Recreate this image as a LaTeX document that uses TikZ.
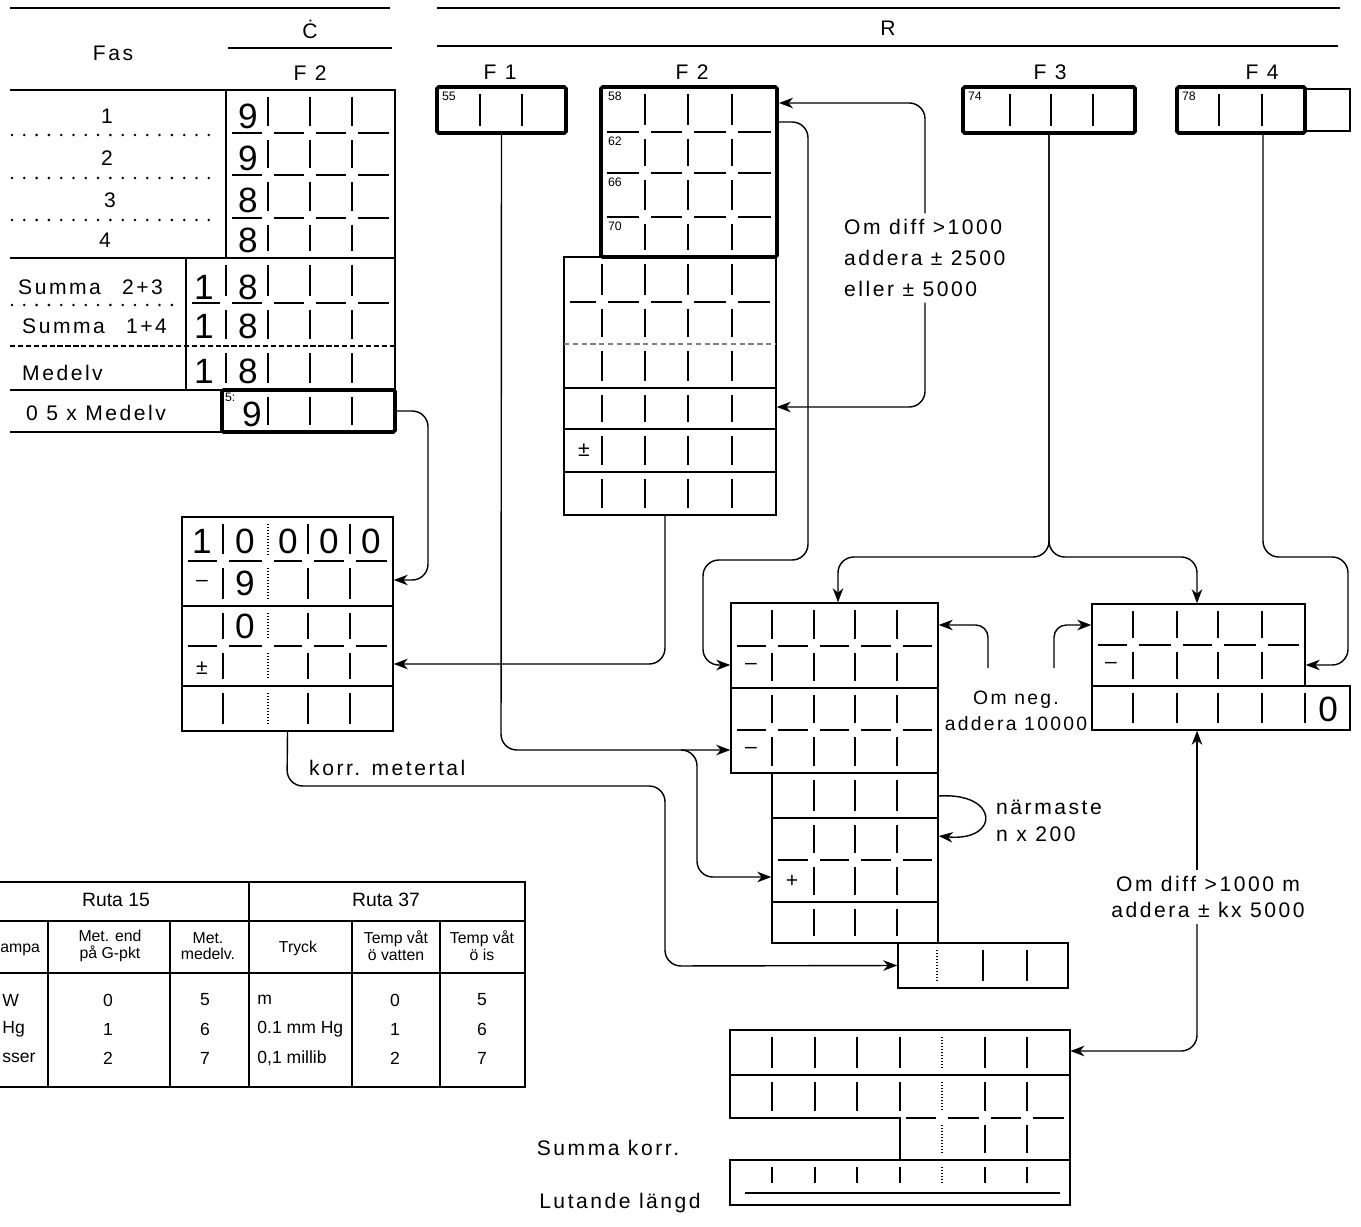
\documentclass[tikz,border=0pt]{standalone}
\usepackage{fontspec}
\setmainfont{Liberation Sans}
\newfontfamily\stf[LetterSpace=12]{Liberation Sans}
\usetikzlibrary{arrows.meta,fit,calc}
% short cell dividers of the form
\newcommand{\rowticks}[3]{\foreach \xx in {#3}{\draw[tk] (\xx,{#1+7}) -- (\xx,{#2-7});}}
\newcommand{\rowdots}[3]{\foreach \xx in {#3}{\draw[tk,densely dotted] (\xx,{#1+7}) -- (\xx,{#2-7});}}
\newcommand{\celldash}[2]{\foreach \aa/\bb in {#2}{\draw[tk] ({\aa+6},#1) -- ({\bb-6},#1);}}

\begin{document}
\begin{tikzpicture}[x=0.02cm,y=-0.02cm,
  tk/.style={line width=0.7pt},
  rl/.style={line width=1pt},
  box/.style={draw,line width=0.8pt,inner sep=0pt},
  fbox/.style={draw,line width=2.2pt,inner sep=0pt,rounded corners=1pt},
  lbl/.style={font=\stf\fontsize{12}{15}\selectfont},
  dig/.style={font=\stf\fontsize{20}{20}\selectfont},
  sml/.style={font=\fontsize{7}{7}\selectfont,anchor=north west,inner sep=1pt},
  tab/.style={font=\fontsize{9}{9.5}\selectfont,align=center},
  dat/.style={font=\fontsize{10}{11}\selectfont},
  arr/.style={-{Stealth[length=8pt,width=6pt,inset=2.5pt]},line width=0.8pt,rounded corners=9pt},
  dotrow/.style={line width=1.6pt,dash pattern=on 0pt off 7pt,line cap=round},
]
\useasboundingbox (0,0) rectangle (1361,1226);

% header
\draw[rl] (10,8) -- (390,8);
\draw[rl] (437,8) -- (1340,8);
\node[lbl] (hfas) at (113,53) {Fas};
\node[lbl] (hc) at (310,29) {Ċ};
\draw[rl] (228,48) -- (392,48);
\node[lbl] (hcf) at (310,73) {F 2};
\node[lbl] (hr) at (888,28) {R};
\draw[rl] (437,46) -- (1338,46);
\node[lbl] (hf1) at (500,72) {F 1};
\node[lbl] (hf2) at (692,72) {F 2};
\node[lbl] (hf3) at (1050,72) {F 3};
\node[lbl] (hf4) at (1262,72) {F 4};

% C, F2: phases 1-4
\draw[rl] (10,90) -- (226,90);
\node[box,fit={(226,90)(395,258)}] (cf) {};
\foreach \yy/\nn/\xs/\dd in {116/1/107/9,158/2/107/9,200/3/110/8,240/4/105/8}{
  \node[lbl] (fas\nn) at (\xs,\yy) {\nn};
  \node[dig] (d\nn) at (248,\yy) {\dd};
}
\foreach \yy in {135,178,220}{\draw[dotrow] (12,\yy) -- (218,\yy);}
\foreach \ya/\yb in {90/133,133/175,175/218,218/258}{\rowticks{\ya}{\yb}{268,310,352}}
\foreach \yy in {133,175,218}{\celldash{\yy}{226/268,268/310,310/352,352/395}}

% sums and mean
\draw[rl] (10,258) -- (186,258);
\node[box,fit={(186,258)(395,390)}] (sm) {};
\draw[dotrow] (12,305) -- (172,305);
\draw[tk,dash pattern=on 3pt off 1.5pt] (10,346) -- (395,346);
\foreach \ya/\yb in {258/303,303/346,346/390}{\rowticks{\ya}{\yb}{226,268,310,352}}
\celldash{303}{186/226,226/268,268/310,310/352,352/395}
\node[lbl,anchor=west] (s23) at (12,287) {Summa\quad 2+3};
\node[lbl,anchor=west] (s14) at (16,326) {Summa\quad 1+4};
\node[lbl,anchor=west] (mdv) at (16,373) {Medelv};
\foreach \yy/\nn in {287/a,326/b,371/c}{
  \node[dig] (e\nn) at (204,\yy) {1};
  \node[dig] (g\nn) at (248,\yy) {8};
}

% 0.5 x mean
\draw[line width=1.2pt] (10,390) -- (222,390);
\node[fbox,fit={(222,390)(395,432)}] (half) {};
\rowticks{390}{432}{268,310,352}
\node[sml] (h5) at (223,391) {5:};
\node[dig] (h9) at (252,414) {9};
\node[lbl,anchor=west] (hmv) at (20,413) {0 5 x Medelv};
\draw[rl] (10,432) -- (222,432);

% R: F1
\node[fbox,fit={(437,87)(566,133)}] (f1) {};
\rowticks{87}{133}{480,522}
\node[sml] (n55) at (440,90) {55};

% R: F2 lower part
\node[box,fit={(564,257)(776,515)}] (f2b) {};
\foreach \ya/\yb in {257/302,302/344,344/388,388/429,429/472,472/515}{\rowticks{\ya}{\yb}{602,645,688,732}}
\celldash{302}{564/602,602/645,645/688,688/732,732/776}
\draw[tk,densely dashed,gray] (564,344) -- (776,344);
\foreach \yy in {388,429,472}{\draw[tk] (564,\yy) -- (776,\yy);}
\node[lbl] (pm1) at (584,450) {±};

% R: F2 readings
\node[fbox,fill=white,fit={(601,87)(777,257)}] (f2a) {};
\foreach \ya/\yb in {87/132,132/173,173/217,217/257}{\rowticks{\ya}{\yb}{645,688,732}}
\foreach \yy in {132,173,217}{\celldash{\yy}{601/645,645/688,688/732,732/777}}
\foreach \yy/\nn in {90/58,135/62,176/66,220/70}{\node[sml] (n\nn) at (606,\yy) {\nn};}

% R: F3, F4
\node[fbox,fit={(963,87)(1135,133)}] (f3) {};
\rowticks{87}{133}{1010,1051,1093}
\node[sml] (n74) at (966,90) {74};
\node[fbox,fit={(1177,87)(1305,133)}] (f4) {};
\rowticks{87}{133}{1219,1262}
\node[sml] (n78) at (1180,90) {78};
\draw[tk] (1306,89) -- (1350,89) -- (1350,131) -- (1306,131);

% 100000 - C
\node[box,fit={(182,517)(393,731)}] (ml) {};
\foreach \ya/\yb in {517/561,561/606,606/646,646/686,686/731}{
  \rowticks{\ya}{\yb}{223,308,350}
  \rowdots{\ya}{\yb}{268}
}
\foreach \yy in {561,646}{\celldash{\yy}{182/223,223/268,268/308,308/350,350/393}}
\foreach \yy in {606,686}{\draw[tk] (182,\yy) -- (393,\yy);}
\node[dig] (o1) at (202,541) {1};
\foreach \xx/\nn in {245/2,288/3,329/4,371/5}{\node[dig] (o\nn) at (\xx,541) {0};}
\node[lbl] (mn1) at (202,583) {–};
\node[dig] (m9) at (245,583) {9};
\node[dig] (m0) at (245,626) {0};
\node[lbl] (pm2) at (202,668) {±};

% differences, centre
\node[box,fit={(731,603)(938,773)}] (ma) {};
\foreach \ya/\yb in {603/646,646/688,688/730,730/773}{\rowticks{\ya}{\yb}{772,814,855,897}}
\foreach \yy in {646,730}{\celldash{\yy}{731/772,772/814,814/855,855/897,897/938}}
\draw[tk] (731,688) -- (938,688);
\node[lbl] (mn2) at (751,666) {–};
\node[lbl] (mn3) at (751,750) {–};

\node[box,fit={(772,773)(938,943)}] (mb) {};
\foreach \ya/\yb in {773/818,818/860,860/902,902/943}{\rowticks{\ya}{\yb}{814,855,897}}
\celldash{860}{772/814,814/855,855/897,897/938}
\foreach \yy in {818,902}{\draw[tk] (772,\yy) -- (938,\yy);}
\node[lbl] (pl1) at (792,881) {+};

\node[box,fit={(898,943)(1068,988)}] (mc) {};
\rowticks{943}{988}{983,1027}
\rowdots{943}{988}{937}

% differences, right
\node[box,fit={(1092,604)(1305,686)}] (ra) {};
\foreach \ya/\yb in {604/645,645/686}{\rowticks{\ya}{\yb}{1133,1177,1218,1262}}
\celldash{645}{1092/1133,1133/1177,1177/1218,1218/1262,1262/1305}
\node[lbl] (mn4) at (1111,665) {–};
\node[box,fit={(1092,686)(1350,730)}] (rb) {};
\rowticks{686}{730}{1133,1177,1218,1262,1305}
\node[dig] (r0) at (1328,709) {0};

% sum of corrections, slope length
\node[inner sep=0pt,fit={(730,1030)(1070,1205)}] (tot) {};
\draw[line width=0.8pt] (730,1030) -- (1070,1030) -- (1070,1205) -- (730,1205) -- (730,1160)
  -- (900,1160) -- (900,1118) -- (730,1118) -- cycle;
\draw[tk] (730,1075) -- (1070,1075);
\draw[tk] (900,1160) -- (1070,1160);
\foreach \ya/\yb in {1030/1075,1075/1118,1160/1190}{
  \rowticks{\ya}{\yb}{772,815,857,900,985,1027}
  \rowdots{\ya}{\yb}{942}
}
\rowticks{1118}{1160}{985,1027}
\rowdots{1118}{1160}{942}
\celldash{1118}{900/942,942/985,985/1027,1027/1070}
\draw[line width=1.2pt] (745,1193) -- (1060,1193);
\node[lbl] (skorr) at (608,1148) {Summa korr.};
\node[lbl] (llang) at (620,1203) {Lutande längd};

% notes
\node[lbl,anchor=west,align=left,font=\stf\fontsize{12}{17.5}\selectfont] (om1) at (838,258)
  {Om diff >1000\\addera ± 2500\\eller ± 5000};
\node[lbl,align=center,font=\stf\fontsize{11}{15}\selectfont] (om2) at (1016,711) {Om neg.\\addera 10000};
\node[lbl,anchor=west,align=left] (nm) at (990,821) {närmaste\\n x 200};
\node[lbl,align=center] (om3) at (1208,897) {Om diff >1000 m\\addera ± kx 5000};
\node[lbl,anchor=west] (km) at (303,768) {korr. metertal};

% connectors
\draw[arr] (half.east) -- (428,411) -- (428,580) -- (ml.east |- 0,580);
\draw[arr] (f2b.south -| 665,0) -- (665,664) -- (ml.east |- 0,664);
\draw[arr] (om1.north -| 925,0) |- (f2a.east |- 0,103);
\draw[arr] (om1.south -| 925,0) |- (f2b.east |- 0,407);
\draw[arr] (f2a.east |- 0,122) -- (808,122) -- (808,560) -- (703,560) -- (703,665) -- (ma.west |- 0,665);
\draw[arr] (f1.south) -- (501,750) -- (ma.west |- 0,750);
\coordinate (fork) at (682,750);
\draw[arr] (fork) -| (697,877) -- (mb.west |- 0,877);
\draw[arr] (ml.south) -- (287,786) -- (665,786) -- (665,966) -- (mc.west);
\draw[arr] (f3.south) -- (1049,557) -| (ma.north -| 838,0);
\draw[arr] (f3.south) -- (1049,557) -| (ra.north -| 1197,0);
\draw[arr] (f4.south -| 1263,0) -- (1263,557) -- (1348,557) -- (1348,665) -- (ra.east |- 0,665);
\coordinate (nga) at (988,668);
\coordinate (ngb) at (1054,668);
\draw[arr,rounded corners=7pt] (nga) |- (ma.east |- 0,625);
\draw[arr,rounded corners=7pt] (ngb) |- (ra.west |- 0,625);
\draw[arr] (mb.east |- 0,796) .. controls (1000,792) and (1000,842) .. (mb.east |- 0,836);
\draw[arr] (om3.north -| 1197,0) -- (rb.south -| 1197,0);
\draw[arr] (om3.south -| 1197,0) |- (tot.east |- 0,1051);

% Ruta 15 / Ruta 37
\draw[rl] (0,882) -- (525,882) -- (525,1087) -- (0,1087);
\draw[tk] (249,882) -- (249,1087);
\draw[tk] (0,921) -- (525,921);
\draw[tk] (0,973) -- (525,973);
\foreach \xx in {48,170,352,440}{\draw[tk] (\xx,921) -- (\xx,1087);}
\node[tab,font=\fontsize{11}{12}\selectfont] (r15) at (116,900) {Ruta 15};
\node[tab,font=\fontsize{11}{12}\selectfont] (r37) at (386,900) {Ruta 37};
\node[tab,anchor=west,inner sep=0pt] (t1) at (0,950) {ampa};
\node[tab] (t2) at (110,946) {Met. end\\på G-pkt};
\node[tab] (t3) at (208,946) {Met.\\medelv.};
\node[tab] (t4) at (298,948) {Tryck};
\node[tab] (t5) at (396,946) {Temp våt\\ö vatten};
\node[tab] (t6) at (482,946) {Temp våt\\ö is};
\foreach \yy/\aa/\bb/\cc/\dd/\ee/\nn in {1000/W/0/5/m/0/a,1029/Hg/1/6/0.1 mm Hg/1/b,1058/sser/2/7/{0,1 millib}/2/c}{
  \node[dat,anchor=west,inner sep=0pt] (u\nn) at (2,\yy) {\aa};
  \node[dat] (v\nn) at (108,\yy) {\bb};
  \node[dat] (w\nn) at (205,\yy) {\cc};
  \node[dat,anchor=west,inner sep=0pt] (x\nn) at (257,\yy) {\dd};
  \node[dat] (y\nn) at (395,\yy) {\ee};
  \node[dat] (z\nn) at (482,\yy) {\cc};
}
\end{tikzpicture}
\end{document}
